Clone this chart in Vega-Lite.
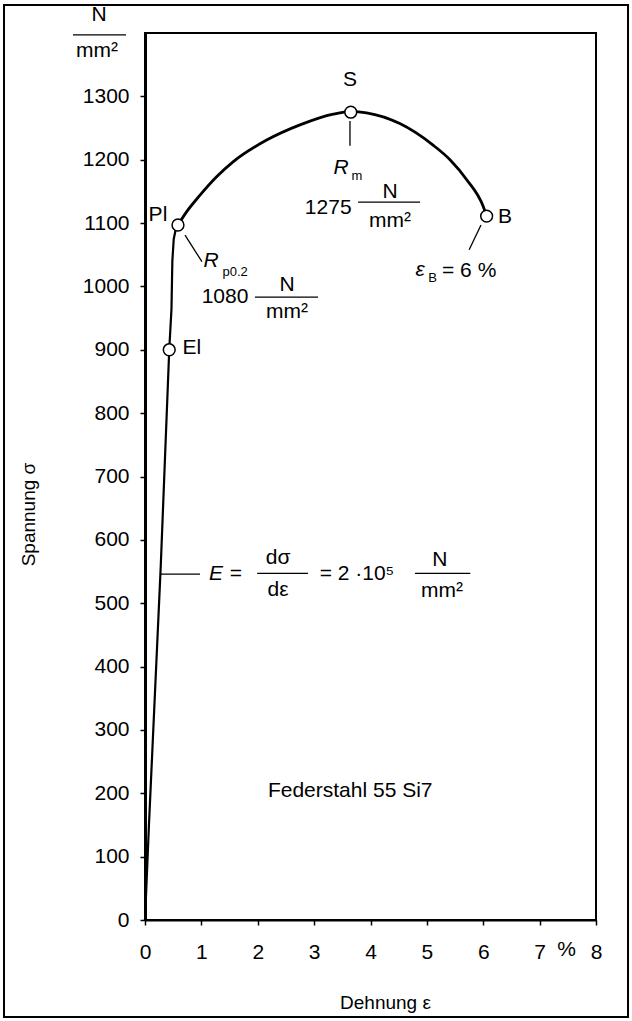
{
  "$schema": "https://vega.github.io/schema/vega-lite/v6.json",
  "width": 451,
  "height": 887,
  "autosize": {"type": "pad"},
  "padding": {"left": 3, "top": 4, "right": 0, "bottom": 0},
  "background": "white",
  "config": {
    "view": {"stroke": "black", "strokeWidth": 2},
    "font": "Liberation Sans",
    "axis": {"grid": false, "labelColor": "black", "tickColor": "black", "domainColor": "black", "titleColor": "black", "titleFontWeight": "normal", "labelFont": "Liberation Sans", "titleFont": "Liberation Sans"}
  },
  "datasets": {
    "frame": [
      {"e": -2.501, "s": 1444, "e2": 8.568, "s2": -153}
    ],
    "elastic": [
      {"e": 0, "s": 0}, {"e": 0.07, "s": 150}, {"e": 0.28, "s": 560}, {"e": 0.43, "s": 900},
      {"e": 0.47, "s": 965}, {"e": 0.485, "s": 1040}, {"e": 0.51, "s": 1075}, {"e": 0.545, "s": 1090},
      {"e": 0.585, "s": 1097}
    ],
    "plastic": [
      {"e": 0.585, "s": 1097}, {"e": 0.74, "s": 1118}, {"e": 0.976, "s": 1144}, {"e": 1.27, "s": 1173},
      {"e": 1.567, "s": 1197}, {"e": 2.158, "s": 1231}, {"e": 2.749, "s": 1255}, {"e": 3.34, "s": 1272},
      {"e": 3.65, "s": 1276}, {"e": 3.93, "s": 1274}, {"e": 4.52, "s": 1257}, {"e": 5.11, "s": 1223},
      {"e": 5.41, "s": 1200}, {"e": 5.71, "s": 1168}, {"e": 6.0, "s": 1126}, {"e": 6.06, "s": 1111}
    ],
    "pts": [
      {"e": 0.43, "s": 900}, {"e": 0.585, "s": 1097}, {"e": 3.65, "s": 1275}, {"e": 6.06, "s": 1111}
    ],
    "rules": [
      {"e": 3.636, "s": 1261, "e2": 3.636, "s2": 1222},
      {"e": 0.71, "s": 1081, "e2": 1.01, "s2": 1039},
      {"e": 5.96, "s": 1097, "e2": 5.75, "s2": 1058},
      {"e": 0.266, "s": 546, "e2": 0.976, "s2": 546},
      {"e": -1.277, "s": 1397, "e2": -0.337, "s2": 1397},
      {"e": 3.78, "s": 1133, "e2": 4.88, "s2": 1133},
      {"e": 1.95, "s": 983, "e2": 3.07, "s2": 983},
      {"e": 1.99, "s": 547, "e2": 2.89, "s2": 547},
      {"e": 4.79, "s": 547, "e2": 5.77, "s2": 547}
    ],
    "txt": [
      {"e": 3.636, "s": 1326, "t": "S"},
      {"e": 3.25, "s": 1124, "t": "1275"},
      {"e": 4.346, "s": 1149, "t": "N"},
      {"e": 4.346, "s": 1103, "t": "mm²"},
      {"e": 0.23, "s": 1113, "t": "Pl"},
      {"e": 1.42, "s": 983, "t": "1080"},
      {"e": 2.52, "s": 1002, "t": "N"},
      {"e": 2.52, "s": 960, "t": "mm²"},
      {"e": 6.386, "s": 1110, "t": "B"},
      {"e": 0.83, "s": 903, "t": "El"},
      {"e": 5.75, "s": 1024, "t": "= 6 %"},
      {"e": 1.61, "s": 546, "t": "="},
      {"e": 2.36, "s": 571, "t": "dσ"},
      {"e": 2.36, "s": 521, "t": "dε"},
      {"e": 3.76, "s": 546, "t": "= 2 ·10⁵"},
      {"e": 5.23, "s": 568, "t": "N"},
      {"e": 5.27, "s": 520, "t": "mm²"},
      {"e": 3.64, "s": 204, "t": "Federstahl 55 Si7"},
      {"e": -0.816, "s": 1428, "t": "N"},
      {"e": -0.851, "s": 1371, "t": "mm²"},
      {"e": 7.48, "s": -47, "t": "%"}
    ],
    "ital": [
      {"e": 3.48, "s": 1187, "t": "R"},
      {"e": 1.17, "s": 1040, "t": "R"},
      {"e": 4.88, "s": 1026, "t": "ε"},
      {"e": 1.26, "s": 546, "t": "E"}
    ],
    "sub": [
      {"e": 3.76, "s": 1174, "t": "m"},
      {"e": 1.6, "s": 1023, "t": "p0.2"},
      {"e": 5.1, "s": 1013, "t": "B"}
    ]
  },
  "encoding": {
    "x": {
      "field": "e", "type": "quantitative",
      "scale": {"domain": [0, 8], "nice": false, "zero": false},
      "axis": {
        "values": [0, 1, 2, 3, 4, 5, 6, 7, 8], "title": "Dehnung ε", "format": "d",
        "labelFontSize": 21, "labelPadding": 16, "tickSize": 5, "tickWidth": 1.5,
        "domainWidth": 2, "labelFlush": false, "labelOverlap": false,
        "titleFontSize": 19, "titleX": 240, "titleY": 82, "titleBaseline": "middle"
      }
    },
    "y": {
      "field": "s", "type": "quantitative",
      "scale": {"domain": [0, 1400], "nice": false},
      "axis": {
        "values": [0, 100, 200, 300, 400, 500, 600, 700, 800, 900, 1000, 1100, 1200, 1300],
        "title": "Spannung σ", "format": "d",
        "labelFontSize": 21, "labelPadding": 11, "tickSize": 5, "tickWidth": 1.5,
        "domainWidth": 3, "labelFlush": false, "labelOverlap": false,
        "titleFontSize": 19, "titleX": -117, "titleY": 481, "titleBaseline": "middle"
      }
    }
  },
  "layer": [
    {
      "data": {"name": "frame"},
      "mark": {"type": "rect", "filled": false, "stroke": "black", "strokeWidth": 2},
      "encoding": {"x2": {"field": "e2"}, "y2": {"field": "s2"}}
    },
    {
      "data": {"name": "elastic"},
      "mark": {"type": "line", "color": "black", "strokeWidth": 2.2, "interpolate": "linear"}
    },
    {
      "data": {"name": "plastic"},
      "mark": {"type": "line", "color": "black", "strokeWidth": 2.8, "interpolate": "monotone"}
    },
    {
      "data": {"name": "rules"},
      "mark": {"type": "rule", "color": "black", "strokeWidth": 1.3},
      "encoding": {"x2": {"field": "e2"}, "y2": {"field": "s2"}}
    },
    {
      "data": {"name": "pts"},
      "mark": {"type": "point", "shape": "circle", "filled": true, "fill": "white", "stroke": "black", "strokeWidth": 1.5, "size": 140, "opacity": 1}
    },
    {
      "data": {"name": "txt"},
      "mark": {"type": "text", "fontSize": 21, "align": "center", "baseline": "middle", "color": "black"},
      "encoding": {"text": {"field": "t"}}
    },
    {
      "data": {"name": "ital"},
      "mark": {"type": "text", "fontSize": 21, "fontStyle": "italic", "align": "center", "baseline": "middle", "color": "black"},
      "encoding": {"text": {"field": "t"}}
    },
    {
      "data": {"name": "sub"},
      "mark": {"type": "text", "fontSize": 13, "align": "center", "baseline": "middle", "color": "black"},
      "encoding": {"text": {"field": "t"}}
    }
  ]
}
